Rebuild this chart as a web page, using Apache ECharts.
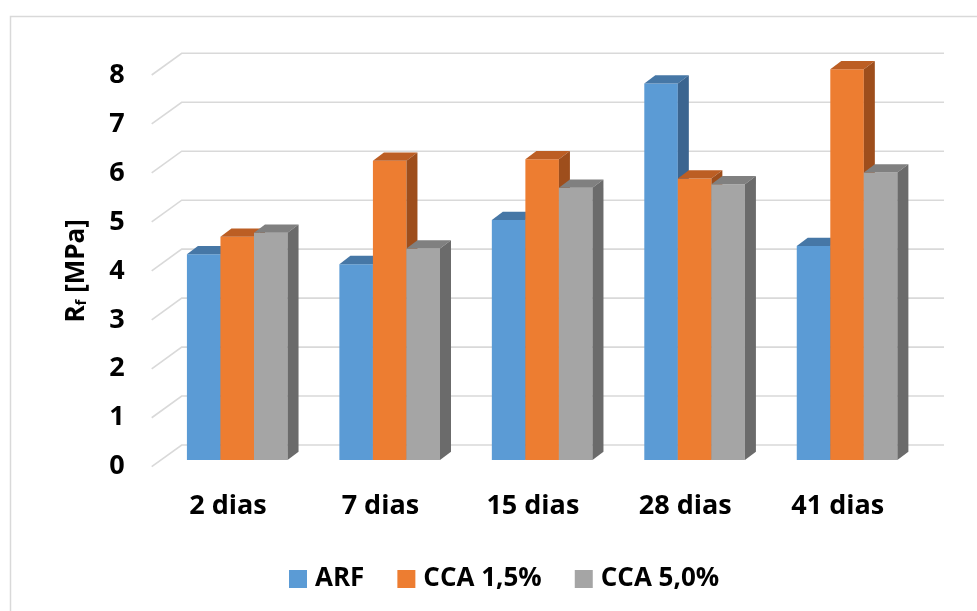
<!DOCTYPE html>
<html>
<head>
<meta charset="utf-8">
<script src="https://cdn.jsdelivr.net/npm/echarts@6/dist/echarts.min.js"></script>
<style>
  html, body { margin: 0; padding: 0; background: #ffffff; }
  #chart { width: 977px; height: 611px; }
</style>
</head>
<body>
<div id="chart"></div>
<script>
// ---- data ----
const categories = ['2 dias', '7 dias', '15 dias', '28 dias', '41 dias'];
const seriesNames = ['ARF', 'CCA 1,5%', 'CCA 5,0%'];
const arf   = [4.20, 4.00, 4.90, 7.69, 4.37];
const cca15 = [4.56, 6.11, 6.14, 5.75, 7.98];
const cca50 = [4.64, 4.32, 5.56, 5.63, 5.87];
const yTicks = [0, 1, 2, 3, 4, 5, 6, 7, 8];

// ---- styles ----
const FONT = 'Open Sans';
const faces = [
  { front: '#5B9BD5', top: '#4677A6', side: '#3B6590' },
  { front: '#ED7D31', top: '#BC5E24', side: '#9E4E1C' },
  { front: '#A5A5A5', top: '#808080', side: '#6B6B6B' }
];
const BAR_DX = 11, BAR_DY = 8.3;       // bar depth projection
const WALL_DX = 20.7, WALL_DY = 15;    // bar plane -> back wall
const FLOOR_DX = 9.3, FLOOR_DY = 6.7;  // bar plane -> front floor edge

function barRenderer(sIdx) {
  const f = faces[sIdx];
  return function (params, api) {
    const ci = api.value(0), v = api.value(1);
    const base = api.coord([ci, 0]);
    const top = api.coord([ci, v]);
    const band = api.size([1, 0])[0];
    const gw = band * 0.66, bw = gw / 3;
    const x0 = base[0] - gw / 2 + sIdx * bw;
    const yT = top[1], yB = base[1];
    return {
      type: 'group',
      children: [
        { type: 'rect', shape: { x: x0, y: yT, width: bw, height: yB - yT }, style: { fill: f.front } },
        { type: 'polygon', shape: { points: [[x0, yT], [x0 + BAR_DX, yT - BAR_DY], [x0 + bw + BAR_DX, yT - BAR_DY], [x0 + bw, yT]] }, style: { fill: f.top } },
        { type: 'polygon', shape: { points: [[x0 + bw, yT], [x0 + bw + BAR_DX, yT - BAR_DY], [x0 + bw + BAR_DX, yB - BAR_DY], [x0 + bw, yB]] }, style: { fill: f.side } }
      ]
    };
  };
}

function gridRenderer(params, api) {
  const p = api.coord([0, api.value(1)]);
  const cs = params.coordSys;
  const y = p[1];
  return {
    type: 'polyline',
    shape: { points: [[cs.x - FLOOR_DX, y + FLOOR_DY], [cs.x + WALL_DX, y - WALL_DY], [cs.x + cs.width + WALL_DX, y - WALL_DY]] },
    style: { fill: null, stroke: '#D9D9D9', lineWidth: 1.6 }
  };
}

const allValues = [arf, cca15, cca50];
const chart = echarts.init(document.getElementById('chart'), null, { renderer: 'canvas' });

const labelStyle = { fontFamily: FONT, fontWeight: 'bold', fontSize: 27, color: '#000' };

chart.setOption({
  animation: false,
  backgroundColor: '#ffffff',
  graphic: [{
    type: 'rect', left: 8, top: 14, z: -10,
    shape: { width: 1000, height: 1000 },
    style: { fill: null, stroke: '#D9D9D9', lineWidth: 1.5 }
  }],
  grid: [
    { left: 161, top: 68.3, width: 762.3, height: 391.7, outerBoundsMode: 'none' },
    { left: 151.7, top: 75, width: 762.3, height: 391.7, outerBoundsMode: 'none' }
  ],
  xAxis: [
    { gridIndex: 0, type: 'category', data: categories, show: false },
    { gridIndex: 1, type: 'category', data: categories,
      axisLine: { show: false }, axisTick: { show: false },
      axisLabel: Object.assign({ margin: 26 }, labelStyle) }
  ],
  yAxis: [
    { gridIndex: 0, type: 'value', min: 0, max: 8, interval: 1, show: false },
    { gridIndex: 1, type: 'value', min: 0, max: 8, interval: 1,
      axisLine: { show: false }, axisTick: { show: false }, splitLine: { show: false },
      axisLabel: Object.assign({ margin: 27, formatter: (v) => yTicks.includes(v) ? String(v) : '' }, labelStyle),
      name: '{a|R}{b|f}{a| [MPa]}',
      nameLocation: 'middle', nameRotate: 90, nameGap: 62,
      nameTextStyle: {
        rich: {
          a: { fontFamily: FONT, fontWeight: 'bold', fontSize: 26, color: '#000', lineHeight: 30, verticalAlign: 'bottom' },
          b: { fontFamily: FONT, fontWeight: 'bold', fontSize: 15, color: '#000', lineHeight: 14, verticalAlign: 'bottom' }
        }
      }
    }
  ],
  legend: {
    left: 284, top: 561,
    itemWidth: 18, itemHeight: 18, itemGap: 33,
    icon: 'rect',
    data: seriesNames,
    textStyle: { fontFamily: FONT, fontWeight: 'bold', fontSize: 26, color: '#000', padding: [0, 0, 0, 3] }
  },
  series: [
    {
      type: 'custom', name: 'grid', coordinateSystem: 'cartesian2d', xAxisIndex: 0, yAxisIndex: 0,
      clip: false, silent: true, z: 1,
      data: yTicks.map(v => [0, v]),
      renderItem: gridRenderer
    }
  ].concat(seriesNames.map((name, i) => ({
    type: 'custom', name: name, coordinateSystem: 'cartesian2d', xAxisIndex: 0, yAxisIndex: 0,
    clip: false, silent: true, z: 2,
    itemStyle: { color: faces[i].front },
    data: allValues[i].map((v, ci) => [ci, v]),
    renderItem: barRenderer(i)
  })))
});
</script>
</body>
</html>
